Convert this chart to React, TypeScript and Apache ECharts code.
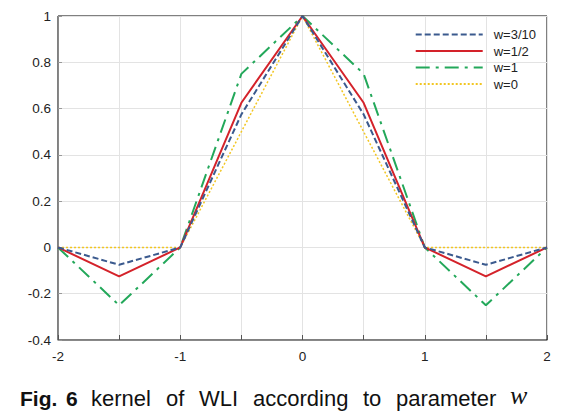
import React, { useEffect, useRef } from "react";
import * as echarts from "echarts";

const xValues = [-2, -1.5, -1, -0.5, 0, 0.5, 1, 1.5, 2];
const seriesNames = ["w=3/10", "w=1/2", "w=1", "w=0"];
const w310 = [0, -0.075, 0, 0.575, 1, 0.575, 0, -0.075, 0];
const w12 = [0, -0.125, 0, 0.625, 1, 0.625, 0, -0.125, 0];
const w1 = [0, -0.25, 0, 0.75, 1, 0.75, 0, -0.25, 0];
const w0 = [0, 0, 0, 0.5, 1, 0.5, 0, 0, 0];
const captionWords = ["Fig.", "6", "kernel", "of", "WLI", "according", "to", "parameter", "w"];

export default function App() {
  const ref = useRef<HTMLDivElement>(null);
  useEffect(() => {
    if (!ref.current) return;
    const chart = echarts.init(ref.current, undefined, { renderer: "svg" });
    const pts = (arr: number[]) => xValues.map((x, i) => [x, arr[i]]);
    const styles = [
      { color: "#3B5A8E", type: [6, 3], width: 2 },
      { color: "#D4222A", type: "solid", width: 2 },
      { color: "#23A85A", type: [14, 6, 3, 6], width: 2 },
      { color: "#F2C623", type: [2, 2], width: 1.5 },
    ];
    const datasets = [w310, w12, w1, w0];
    const xs = [20, 66, 91, 166, 199, 253, 363, 396, 510];
    const sans = '"Liberation Sans", Arial, sans-serif';
    const fonts = [
      `bold 21px ${sans}`,
      `bold 21px ${sans}`,
      `22px ${sans}`,
      `22px ${sans}`,
      `22px ${sans}`,
      `22px ${sans}`,
      `22px ${sans}`,
      `22px ${sans}`,
      'italic 26px "Liberation Serif", serif',
    ];
    chart.setOption({
      animation: false,
      backgroundColor: "#ffffff",
      grid: {
        left: 58,
        right: 23,
        top: 16,
        bottom: 78,
        show: true,
        borderColor: "#000",
        borderWidth: 1,
        backgroundColor: "transparent",
      },
      legend: {
        orient: "vertical",
        right: 29,
        top: 23,
        itemWidth: 67,
        itemHeight: 14,
        itemGap: 3.5,
        itemStyle: { opacity: 0 },
        textStyle: { fontSize: 13, color: "#222", fontFamily: sans, padding: [0, 0, 0, 6] },
        data: seriesNames,
      },
      xAxis: {
        type: "value",
        min: -2,
        max: 2,
        interval: 0.5,
        axisLine: { onZero: false, lineStyle: { color: "#888", width: 1 } },
        axisTick: { inside: true, length: 5, lineStyle: { color: "#555" } },
        splitLine: { show: true, lineStyle: { color: "#e3e3e3", width: 1 } },
        axisLabel: {
          color: "#222",
          fontSize: 13.5,
          fontFamily: sans,
          margin: 9,
          formatter: (v: number) => (Math.abs(v - Math.round(v)) < 1e-9 ? String(Math.round(v)) : ""),
        },
      },
      yAxis: {
        type: "value",
        min: -0.4,
        max: 1,
        interval: 0.2,
        axisLine: { show: true, onZero: false, lineStyle: { color: "#888", width: 1 } },
        axisTick: { show: true, inside: true, length: 4, lineStyle: { color: "#999" } },
        splitLine: { show: true, lineStyle: { color: "#e3e3e3", width: 1 } },
        axisLabel: {
          color: "#222",
          fontSize: 13.5,
          fontFamily: sans,
          margin: 7,
          formatter: (v: number) => String(parseFloat(v.toFixed(2))),
        },
      },
      series: datasets.map((d, i) => ({
        name: seriesNames[i],
        type: "line",
        data: pts(d),
        symbol: "none",
        lineStyle: styles[i],
        itemStyle: { color: styles[i].color },
        z: 10 - i,
      })),
      graphic: captionWords.map((w, i) => ({
        type: "text",
        left: xs[i],
        top: i === 8 ? 382 : i < 2 ? 388 : 387,
        style: { text: w, font: fonts[i], fill: "#111" },
      })),
    });
    return () => chart.dispose();
  }, []);
  return (
    <div
      ref={ref}
      style={{ position: "fixed", left: 0, top: 0, width: 570, height: 418, background: "#fff" }}
    />
  );
}
